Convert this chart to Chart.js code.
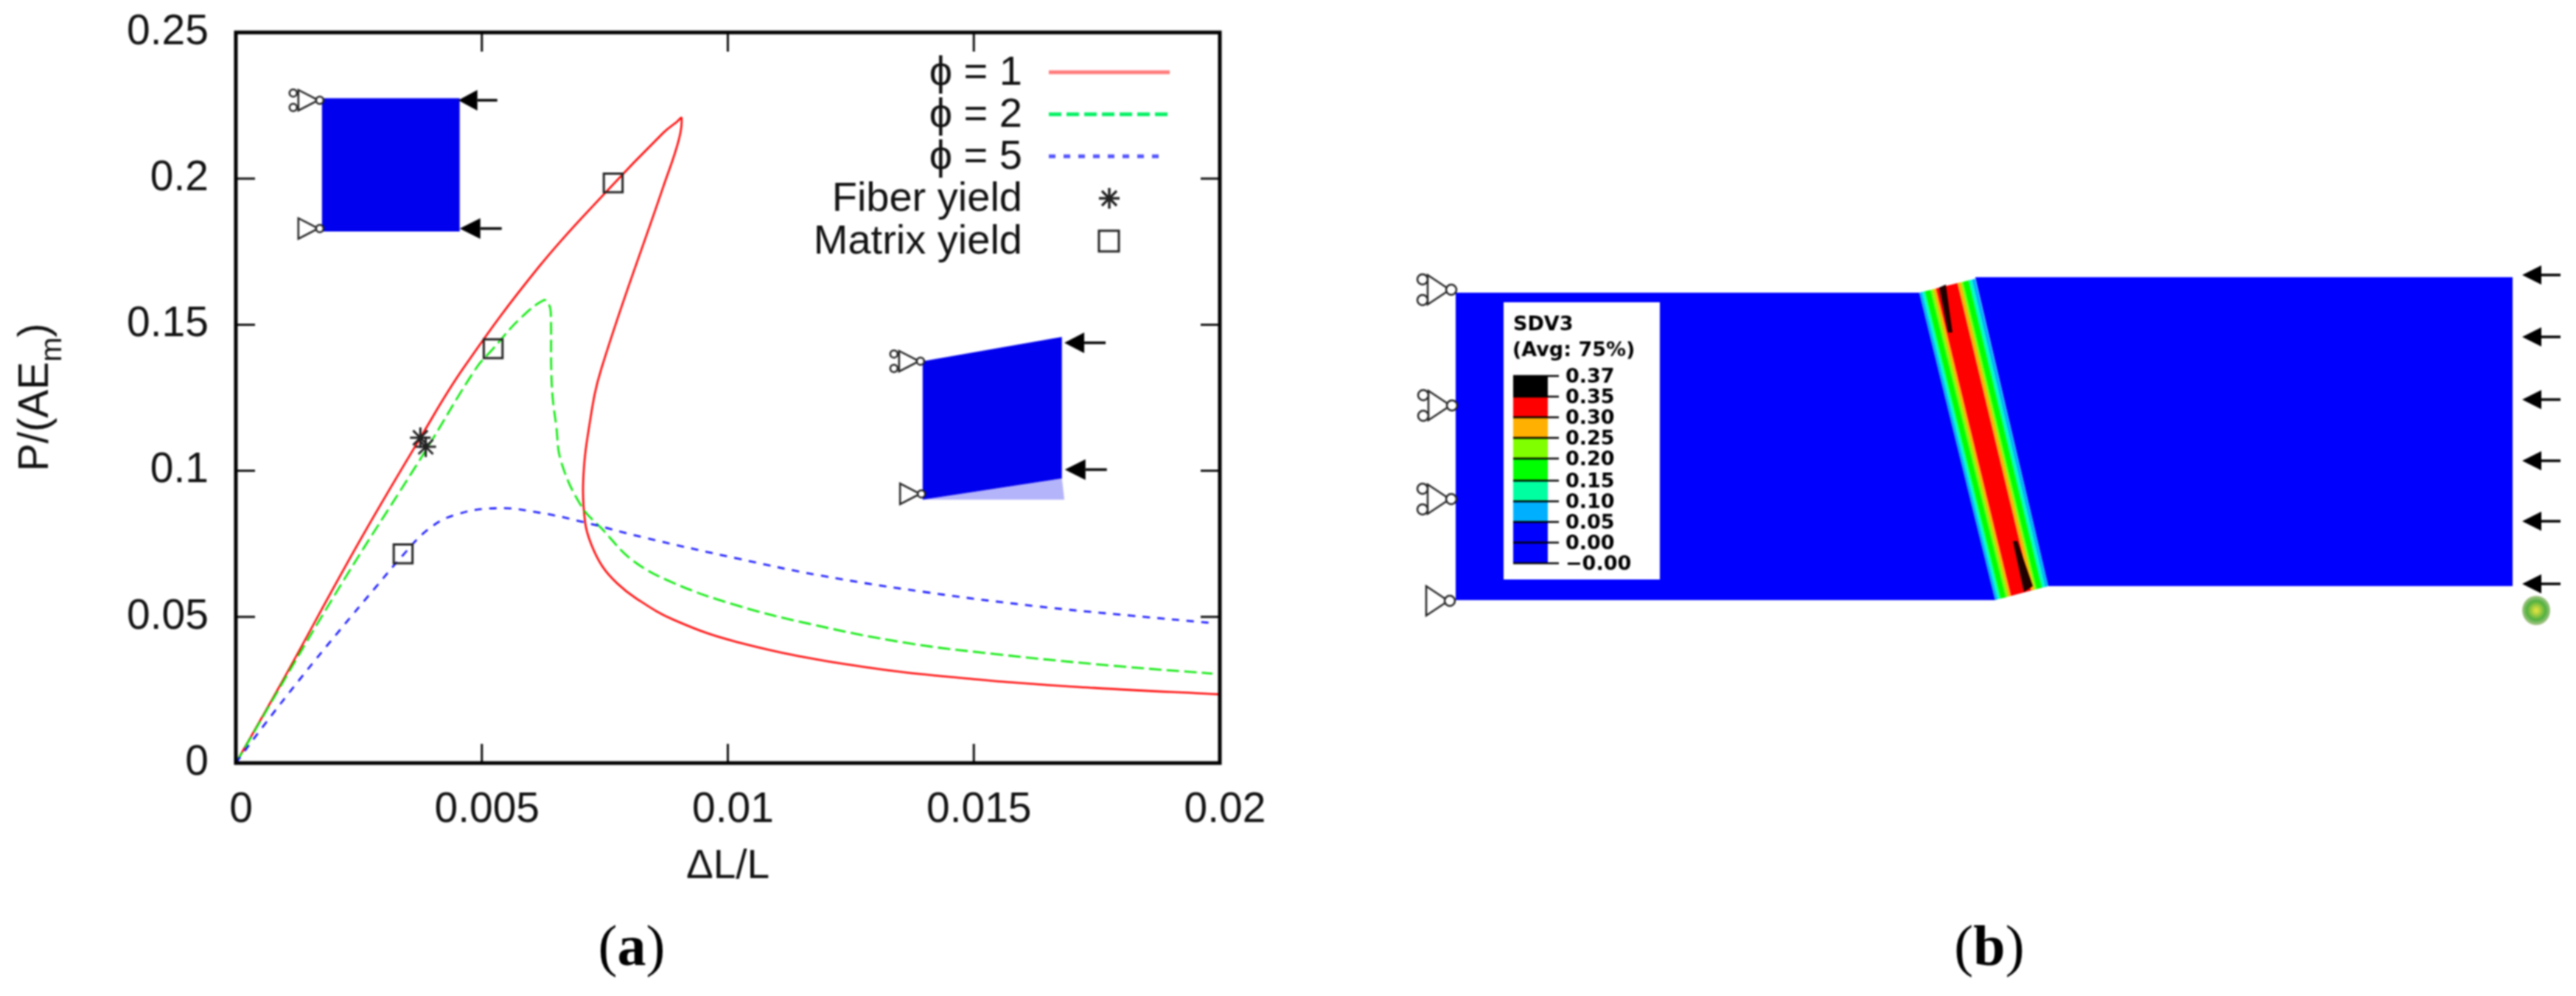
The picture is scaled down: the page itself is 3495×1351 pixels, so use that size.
<!DOCTYPE html>
<html>
<head>
<meta charset="utf-8">
<style>
  html, body { margin: 0; padding: 0; background: #fff; }
  canvas { position: absolute; top: 0; filter: blur(0.8px); }
  #curve-chart { left: 0; }
  #specimen-chart { left: 1750px; }
</style>
<script src="https://cdn.jsdelivr.net/npm/chart.js@4/dist/chart.umd.js"></script>
</head>
<body>
<canvas id="curve-chart" width="1750" height="1351"></canvas>
<canvas id="specimen-chart" width="1745" height="1351"></canvas>
<script>
const xTickLabels = ['0', '0.005', '0.01', '0.015', '0.02'];
const yTickLabels = ['0', '0.05', '0.1', '0.15', '0.2', '0.25'];

const phi1X = [0, .00088, .00249, .00375, .00462, .00616, .0075, .00869, .00897, .00906, .009, .00869, .00743, .00718, .00706, .0071, .00722, .00745, .00775, .00814, .0089, .01019, .01248, .015, .01745, .02];
const phi1Y = [0, .026, .0752, .1113, .135, .1698, .195, .2157, .2195, .2207, .213, .1973, .135, .115, .0963, .0823, .075, .0673, .0615, .0563, .049, .0414, .0336, .0287, .0257, .0235];
const phi2X = [0, .00202, .00386, .00488, .00523, .00576, .00626, .00636, .0064, .00641, .00644, .00651, .00661, .00703, .00745, .00806, .0089, .01019, .01172, .01363, .01554, .01783, .01985];
const phi2Y = [0, .0578, .107, .135, .1418, .1518, .1584, .157, .1544, .135, .125, .1157, .1032, .0877, .08, .0694, .0616, .0539, .0474, .0411, .0371, .0333, .0306];
const phi5X = [0, .00057, .00133, .0021, .00286, .0034, .00389, .00443, .00531, .00623, .0071, .00829, .01019, .01187, .01401, .0163, .01822, .01985];
const phi5Y = [0, .0129, .0293, .0452, .0605, .0712, .0797, .0848, .0872, .0855, .0823, .0772, .07, .0642, .0585, .0536, .0504, .0479];
const fiberYieldX = [.00375, .00386];
const fiberYieldY = [.1113, .1082];
const matrixYieldX = [.00767, .00523, .0034];
const matrixYieldY = [.1985, .1418, .0716];

const legendNames = ['\u03d5 = 1', '\u03d5 = 2', '\u03d5 = 5', 'Fiber yield', 'Matrix yield'];

// inset sketches on the left panel, in the plot's own units
const insetRectX = [.00175, .00455, .00455, .00175, .00175];
const insetRectY = [.2275, .2275, .1819, .1819, .2275];
const insetBentX = [.01396, .01679, .01679, .01396, .01396];
const insetBentY = [.1375, .1458, .0974, .0901, .1375];
const insetGhostX = [.01396, .01679, .01684, .01396];
const insetGhostY = [.0901, .0974, .0901, .0901];

// right panel, in image units
const leftBlockX = [1975, 2604, 2707, 1975, 1975];
const leftBlockY = [397, 397, 814, 814, 397];
const rightBlockX = [2680, 3409, 3409, 2779, 2680];
const rightBlockY = [376, 376, 795, 795, 376];
const bandTopX = [2604, 2680];
const bandTopY = [397, 378];
const bandBottomX = [2707, 2779];
const bandBottomY = [814, 795];
const bandStops = [0, .05, .1, .2, .25, .3, .68, .74, .78, .88, .94, 1];
const bandColors = ['#00b0ff', '#00ffc0', '#00ff00', '#80ff00', '#ffb000', '#ff0000', '#ffb000', '#80ff00', '#00ff00', '#00ffc0', '#00b0ff'];
const streakTopX = [2631, 2640, 2649, 2643, 2631];
const streakTopY = [390, 386, 451, 451, 390];
const streakBottomX = [2731, 2737, 2758, 2746, 2731];
const streakBottomY = [734, 734, 795, 803, 734];
const sdvLabels = ['0.37', '0.35', '0.30', '0.25', '0.20', '0.15', '0.10', '0.05', '0.00', '\u22120.00'];
const sdvColors = ['#000000', '#ff0000', '#ffb000', '#80ff00', '#00ff00', '#00ffa0', '#00b0ff', '#0000ff', '#0000ff'];
const sdvTickY = [510, 538, 566, 594, 622, 652, 680, 708, 736, 764];

const FONT = '"Liberation Sans", Arial, sans-serif';
const INK = '#111';

function points(xs, ys) {
    return xs.map((x, i) => ({x: x, y: ys[i]}));
}

function shape(xs, ys, color, order) {
    return {
        data: points(xs, ys), showLine: true, fill: 'shape', backgroundColor: color,
        borderWidth: 0, pointRadius: 0, tension: 0, order: order
    };
}

function curve(xs, ys, color, dash, order) {
    return {
        data: points(xs, ys), showLine: true, borderColor: color, borderWidth: 2.6,
        borderDash: dash, pointRadius: 0, tension: .4, fill: false, order: order
    };
}

function marker(xs, ys, style, radius) {
    return {
        data: points(xs, ys), showLine: false, pointStyle: style, pointRadius: radius,
        pointBorderColor: '#222', pointBorderWidth: 3, pointBackgroundColor: 'transparent', order: 0
    };
}

function support(ctx, x, y, w, h, r, rollers) {
    ctx.save();
    ctx.strokeStyle = '#222';
    ctx.lineWidth = 2.5;
    ctx.fillStyle = '#fff';
    ctx.beginPath();
    ctx.moveTo(x - 5, y);
    ctx.lineTo(x - w, y - h);
    ctx.lineTo(x - w, y + h);
    ctx.closePath();
    ctx.stroke();
    const circles = [[x - 3, y]];
    if (rollers) {
        circles.push([x - w - 7, y - h * .7], [x - w - 7, y + h * .7]);
    }
    circles.forEach(c => {
        ctx.beginPath();
        ctx.arc(c[0], c[1], r, 0, Math.PI * 2);
        ctx.fill();
        ctx.stroke();
    });
    ctx.restore();
}

function arrow(ctx, tip, y, headLen, len, half) {
    ctx.save();
    ctx.fillStyle = '#000';
    ctx.strokeStyle = '#000';
    ctx.lineWidth = 3.5;
    ctx.beginPath();
    ctx.moveTo(tip, y);
    ctx.lineTo(tip + headLen, y - half);
    ctx.lineTo(tip + headLen, y + half);
    ctx.closePath();
    ctx.fill();
    ctx.beginPath();
    ctx.moveTo(tip + headLen, y);
    ctx.lineTo(tip + len, y);
    ctx.stroke();
    ctx.restore();
}

function caption(ctx, x, y, letter) {
    ctx.save();
    ctx.fillStyle = '#000';
    ctx.textAlign = 'left';
    ctx.textBaseline = 'alphabetic';
    const normal = '78px "Liberation Serif", serif';
    const bold = 'bold 78px "Liberation Serif", serif';
    ctx.font = normal;
    const open = ctx.measureText('(').width;
    ctx.font = bold;
    const mid = ctx.measureText(letter).width;
    ctx.font = normal;
    const left = x - (open * 2 + mid) / 2;
    ctx.fillText('(', left, y);
    ctx.fillText(')', left + open + mid, y);
    ctx.font = bold;
    ctx.fillText(letter, left + open, y);
    ctx.restore();
}

const frameAndNotes = {
    id: 'frameAndNotes',
    afterDatasetsDraw(chart) {
        const ctx = chart.ctx;
        const a = chart.chartArea;
        const sx = chart.scales.x;
        const sy = chart.scales.y;

        // gnuplot style frame with inward ticks on all sides
        ctx.save();
        ctx.strokeStyle = '#111';
        ctx.lineWidth = 3;
        ctx.beginPath();
        sx.ticks.forEach((t, i) => {
            const px = sx.getPixelForTick(i);
            if (i > 0 && i < sx.ticks.length - 1) {
                ctx.moveTo(px, a.bottom); ctx.lineTo(px, a.bottom - 26);
                ctx.moveTo(px, a.top); ctx.lineTo(px, a.top + 26);
            }
        });
        sy.ticks.forEach((t, i) => {
            const py = sy.getPixelForTick(i);
            if (i > 0 && i < sy.ticks.length - 1) {
                ctx.moveTo(a.left, py); ctx.lineTo(a.left + 26, py);
                ctx.moveTo(a.right, py); ctx.lineTo(a.right - 26, py);
            }
        });
        ctx.stroke();
        ctx.strokeStyle = '#000';
        ctx.lineWidth = 5;
        ctx.strokeRect(a.left, a.top, a.right - a.left, a.bottom - a.top);
        ctx.restore();

        // supports and loads of the inset sketches
        support(ctx, sx.getPixelForValue(.00175), sy.getPixelForValue(.2268), 32, 14, 5, true);
        support(ctx, sx.getPixelForValue(.00175), sy.getPixelForValue(.1829), 32, 14, 5, false);
        support(ctx, sx.getPixelForValue(.01396), sy.getPixelForValue(.1375), 32, 14, 5, true);
        support(ctx, sx.getPixelForValue(.01398), sy.getPixelForValue(.0921), 32, 14, 5, false);
        arrow(ctx, sx.getPixelForValue(.00452), sy.getPixelForValue(.2268), 26, 53, 14);
        arrow(ctx, sx.getPixelForValue(.00455), sy.getPixelForValue(.1829), 28, 57, 14);
        arrow(ctx, sx.getPixelForValue(.01684), sy.getPixelForValue(.1438), 27, 56, 14);
        arrow(ctx, sx.getPixelForValue(.01685), sy.getPixelForValue(.1004), 28, 57, 14);

        // key
        ctx.save();
        ctx.fillStyle = INK;
        ctx.font = '56px ' + FONT;
        ctx.textAlign = 'right';
        ctx.textBaseline = 'middle';
        const rows = [98, 155, 212, 269, 327];
        legendNames.forEach((name, i) => ctx.fillText(name, 1387, rows[i] + 2));
        const samples = [['#ff7878', [], 1587], ['#00f060', [17, 7], 1587], ['#5050ff', [9, 11], 1576]];
        samples.forEach((s, i) => {
            ctx.strokeStyle = s[0];
            ctx.lineWidth = 5;
            ctx.setLineDash(s[1]);
            ctx.beginPath();
            ctx.moveTo(1423, rows[i]);
            ctx.lineTo(s[2], rows[i]);
            ctx.stroke();
        });
        ctx.restore();
        ctx.save();
        ctx.strokeStyle = '#222';
        ctx.lineWidth = 3;
        Chart.helpers.drawPoint(ctx, {pointStyle: 'star', radius: 14, borderWidth: 3}, 1505, rows[3]);
        ctx.stroke();
        ctx.strokeRect(1491, rows[4] - 14, 27, 28);
        ctx.restore();

        // y axis name has a subscript, so it is set by hand
        ctx.save();
        ctx.fillStyle = INK;
        ctx.textBaseline = 'alphabetic';
        ctx.translate(65, 539);
        ctx.rotate(-Math.PI / 2);
        ctx.font = '57px ' + FONT;
        const head = 'P/(AE';
        const headW = ctx.measureText(head).width;
        const closeW = ctx.measureText(')').width;
        ctx.font = '40px ' + FONT;
        const subW = ctx.measureText('m').width;
        const start = -(headW + subW + closeW) / 2;
        ctx.textAlign = 'left';
        ctx.fillText('m', start + headW, 18);
        ctx.font = '57px ' + FONT;
        ctx.fillText(head, start, 0);
        ctx.fillText(')', start + headW + subW, 0);
        ctx.restore();

        caption(ctx, 857, 1309, 'a');
    }
};

new Chart(document.querySelector('#curve-chart').getContext('2d'), {
    type: 'scatter',
    plugins: [frameAndNotes],
    data: {
        datasets: [
            shape(insetRectX, insetRectY, '#0000ee', 6),
            shape(insetGhostX, insetGhostY, '#b4b4fa', 5),
            shape(insetBentX, insetBentY, '#0000ee', 4),
            curve(phi1X, phi1Y, '#ff0000', [], 3),
            curve(phi2X, phi2Y, '#00e800', [17, 7], 2),
            curve(phi5X, phi5Y, '#1010ff', [10, 10], 1),
            marker(fiberYieldX, fiberYieldY, 'star', 14),
            marker(matrixYieldX, matrixYieldY, 'rect', 18)
        ]
    },
    options: {
        responsive: false,
        animation: false,
        layout: {padding: {top: 44, right: 95, bottom: 138, left: 0}},
        plugins: {legend: {display: false}, tooltip: {enabled: false}},
        scales: {
            x: {
                type: 'linear', min: 0, max: .02,
                grid: {display: false, drawTicks: false},
                border: {display: false},
                title: {display: true, text: '\u0394L/L', color: INK, font: {family: FONT, size: 55}},
                afterFit: scale => {
                    scale.height = 178;
                    scale.paddingLeft = 0;
                    scale.paddingRight = 0;
                },
                ticks: {
                    stepSize: .005, padding: 30, labelOffset: 7, maxRotation: 0, color: INK,
                    font: {family: FONT, size: 57},
                    callback: (v, i) => xTickLabels[i]
                }
            },
            y: {
                type: 'linear', min: 0, max: .25,
                grid: {display: false, drawTicks: false},
                border: {display: false},
                afterFit: scale => {
                    scale.width = 320;
                    scale.paddingTop = 0;
                    scale.paddingBottom = 0;
                },
                ticks: {
                    stepSize: .05, padding: 37, color: INK,
                    font: {family: FONT, size: 57},
                    callback: (v, i) => yTickLabels[i]
                }
            }
        }
    }
});

const specimenNotes = {
    id: 'specimenNotes',
    afterDatasetsDraw(chart) {
        const ctx = chart.ctx;
        const sx = chart.scales.x;
        const sy = chart.scales.y;
        const X = v => sx.getPixelForValue(v);
        const Y = v => sy.getPixelForValue(v);

        [[1972, 393, true], [1973, 550, true], [1972, 677, true], [1970, 815, false]].forEach(s => {
            support(ctx, X(s[0]), Y(s[1]), 35, 20, 7, s[2]);
        });
        [373, 457, 542, 625, 707, 792].forEach(y => arrow(ctx, X(3422), Y(y), 26, 52, 13));

        // the small blob under the last arrow
        const blob = ctx.createRadialGradient(X(3441), Y(828), 2, X(3441), Y(828), 20);
        blob.addColorStop(0, '#d8e040');
        blob.addColorStop(.6, '#50b040');
        blob.addColorStop(1, '#b0c890');
        ctx.fillStyle = blob;
        ctx.beginPath();
        ctx.ellipse(X(3441), Y(828), 19, 20, 0, 0, Math.PI * 2);
        ctx.fill();

        // contour key
        ctx.fillStyle = '#fff';
        ctx.fillRect(X(2040), Y(410), 212, 376);
        sdvColors.forEach((c, i) => {
            ctx.fillStyle = c;
            ctx.fillRect(X(2053), Y(sdvTickY[i]), 47, sdvTickY[i + 1] - sdvTickY[i]);
        });
        ctx.strokeStyle = '#000';
        ctx.lineWidth = 2.5;
        ctx.beginPath();
        sdvTickY.forEach(y => { ctx.moveTo(X(2053), Y(y)); ctx.lineTo(X(2115), Y(y)); });
        ctx.stroke();
        ctx.fillStyle = '#000';
        ctx.textBaseline = 'alphabetic';
        ctx.textAlign = 'left';
        ctx.font = 'bold 27px "DejaVu Sans", sans-serif';
        ctx.fillText('SDV3', X(2053), Y(448));
        ctx.fillText('(Avg: 75%)', X(2052), Y(483));
        sdvLabels.forEach((t, i) => {
            ctx.fillText(t, X(2124), Y(sdvTickY[i] + 9));
        });

        caption(ctx, X(2699), Y(1309), 'b');
    }
};

function bandStrips(first) {
    const along = (xs, ys, f) => [xs[0] + (xs[1] - xs[0]) * f, ys[0] + (ys[1] - ys[0]) * f];
    return bandColors.map((color, i) => {
        const a = along(bandTopX, bandTopY, bandStops[i]);
        const b = along(bandTopX, bandTopY, bandStops[i + 1]);
        const c = along(bandBottomX, bandBottomY, bandStops[i + 1]);
        const d = along(bandBottomX, bandBottomY, bandStops[i]);
        return shape([a[0], b[0], c[0], d[0], a[0]], [a[1], b[1], c[1], d[1], a[1]], color, first - i);
    });
}

new Chart(document.querySelector('#specimen-chart').getContext('2d'), {
    type: 'scatter',
    plugins: [specimenNotes],
    data: {
        datasets: [
            shape(leftBlockX, leftBlockY, '#0000ff', 30),
            shape(rightBlockX, rightBlockY, '#0000ff', 29),
            ...bandStrips(28),
            shape(streakTopX, streakTopY, '#200000', 2),
            shape(streakBottomX, streakBottomY, '#200000', 1)
        ]
    },
    options: {
        responsive: false,
        animation: false,
        layout: {padding: 0},
        plugins: {legend: {display: false}, tooltip: {enabled: false}},
        scales: {
            x: {type: 'linear', min: 1750, max: 3495, display: false},
            y: {type: 'linear', min: 0, max: 1351, reverse: true, display: false}
        }
    }
});
</script>
</body>
</html>
